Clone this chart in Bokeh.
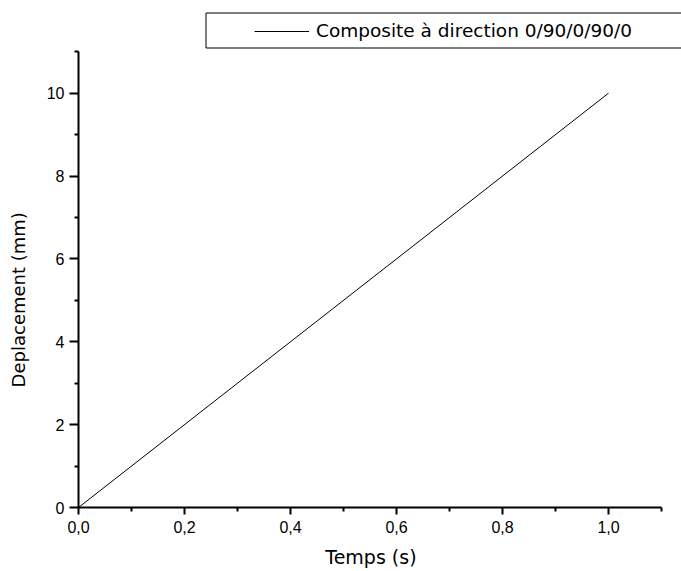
from bokeh.plotting import figure
from bokeh.models import (Range1d, FixedTicker, CustomJSTickFormatter, Legend,
                          LegendItem, BoxAnnotation)
from bokeh.embed import file_html
from bokeh.resources import INLINE

# ---- data ----
temps = [0.0, 1.0]
deplacement = [0.0, 10.0]
series_label = "Composite à direction 0/90/0/90/0"

x_ticks = [0.0, 0.2, 0.4, 0.6, 0.8, 1.0]
x_tick_labels = ["0,0", "0,2", "0,4", "0,6", "0,8", "1,0"]
x_minor = [0.1, 0.3, 0.5, 0.7, 0.9, 1.1]
y_ticks = [0, 2, 4, 6, 8, 10]
y_tick_labels = ["0", "2", "4", "6", "8", "10"]
y_minor = [1, 3, 5, 7, 9, 11]
x_axis_span = (0.0, 1.1)
y_axis_span = (0.0, 11.0)

TICK_FONT = "Liberation Sans"
LABEL_FONT = "DejaVu Sans"
NB = "\u00a0"

# frame spans the area above the axes too, so the legend box (drawn above the
# axis end) stays visible; the axes themselves stop at 1.1 and 11.
p = figure(width=681, height=571, output_backend="svg", toolbar_location=None,
           x_range=Range1d(0, 603 / 530), y_range=Range1d(0, 507 / 41.43),
           min_border_left=78, min_border_right=0, min_border_top=0,
           min_border_bottom=64)
p.outline_line_color = None
p.grid.visible = False
p.background_fill_color = "white"
p.border_fill_color = "white"

r = p.line(temps, deplacement, line_color="black", line_width=1)

fmt_code = "const i = tvals.indexOf(tick); return i >= 0 ? tlabels[i] : '';"
p.xaxis.ticker = FixedTicker(ticks=x_ticks, minor_ticks=x_minor)
p.xaxis.formatter = CustomJSTickFormatter(args=dict(tvals=x_ticks, tlabels=x_tick_labels), code=fmt_code)
p.yaxis.ticker = FixedTicker(ticks=y_ticks, minor_ticks=y_minor)
p.yaxis.formatter = CustomJSTickFormatter(args=dict(tvals=y_ticks, tlabels=y_tick_labels), code=fmt_code)
p.xaxis.bounds = x_axis_span
p.yaxis.bounds = y_axis_span

# trailing no-break spaces re-centre the titles on the drawn axes
p.xaxis.axis_label = "Temps (s)" + NB * 3
p.yaxis.axis_label = "Deplacement (mm)" + NB * 16

for ax in (p.xaxis[0], p.yaxis[0]):
    ax.axis_line_color = "black"
    ax.axis_line_width = 2
    ax.major_tick_line_color = "black"
    ax.major_tick_line_width = 2
    ax.minor_tick_line_color = "black"
    ax.minor_tick_line_width = 2
    ax.major_tick_in = 0
    ax.minor_tick_in = 0
    ax.major_label_text_font = TICK_FONT
    ax.major_label_text_font_size = "16px"
    ax.major_label_text_color = "black"
    ax.axis_label_text_font = LABEL_FONT
    ax.axis_label_text_font_style = "normal"
    ax.axis_label_text_color = "black"

p.xaxis.axis_label_text_font_size = "19px"
p.yaxis.axis_label_text_font_size = "18px"
p.xaxis.major_tick_out = 7
p.xaxis.minor_tick_out = 4
p.yaxis.major_tick_out = 9
p.yaxis.minor_tick_out = 4
p.xaxis.major_label_standoff = 6
p.yaxis.major_label_standoff = 5
p.xaxis.axis_label_standoff = 10
p.yaxis.axis_label_standoff = 15

# legend frame (its right side runs past the edge, as in the reference)
box = BoxAnnotation(left=205.5, right=720, top=12.5, bottom=47.5,
                    left_units="canvas", right_units="canvas",
                    top_units="canvas", bottom_units="canvas",
                    fill_alpha=0, line_color="black", line_width=1,
                    line_alpha=1, line_dash="solid")
p.add_layout(box)

legend = Legend(items=[LegendItem(label=series_label, renderers=[r])],
                location=(168, 458), border_line_alpha=0, background_fill_alpha=0,
                padding=8, glyph_width=55, glyph_height=20, label_height=20,
                label_standoff=7, label_text_font=LABEL_FONT, label_text_font_size="18.5px",
                label_text_color="black", margin=0)
p.add_layout(legend, "center")

open("out.html", "w").write(file_html(p, INLINE))
